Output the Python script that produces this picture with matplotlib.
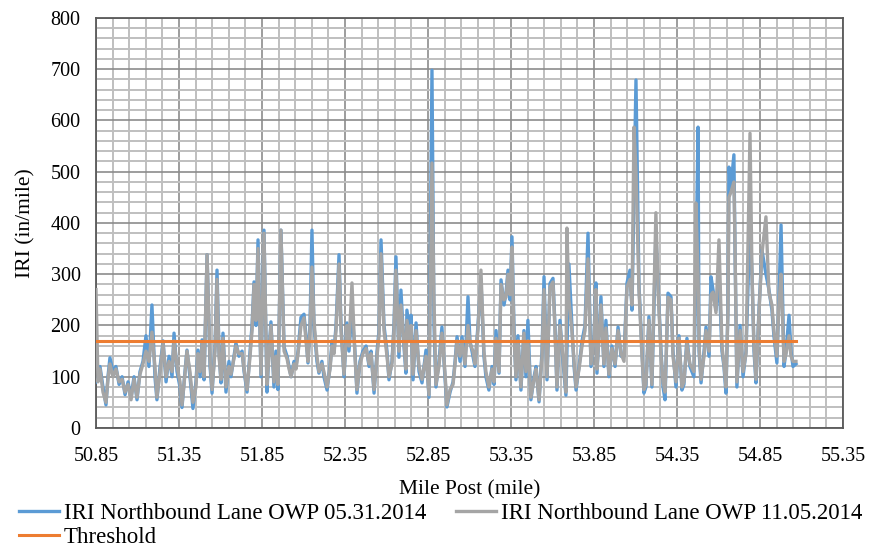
import matplotlib
matplotlib.use("Agg")
import matplotlib.pyplot as plt
import numpy as np

mile = [50.850, 50.862, 50.874, 50.892, 50.910, 50.922, 50.934, 50.952, 50.970, 50.989,
        51.007, 51.025, 51.043, 51.061, 51.079, 51.097, 51.115, 51.133, 51.151, 51.169,
        51.187, 51.205, 51.217, 51.236, 51.254, 51.272, 51.290, 51.308, 51.320, 51.338,
        51.356, 51.368, 51.386, 51.398, 51.416, 51.434, 51.452, 51.464, 51.477, 51.489,
        51.501, 51.519, 51.537, 51.549, 51.567, 51.579, 51.591, 51.603, 51.615, 51.633,
        51.651, 51.663, 51.681, 51.693, 51.711, 51.730, 51.742, 51.760, 51.778, 51.790,
        51.802, 51.814, 51.826, 51.844, 51.862, 51.880, 51.892, 51.904, 51.922, 51.934,
        51.946, 51.964, 51.983, 52.001, 52.013, 52.025, 52.043, 52.055, 52.067, 52.085,
        52.103, 52.115, 52.127, 52.139, 52.151, 52.163, 52.181, 52.193, 52.211, 52.223,
        52.242, 52.260, 52.272, 52.284, 52.296, 52.314, 52.326, 52.344, 52.362, 52.374,
        52.392, 52.410, 52.422, 52.440, 52.458, 52.477, 52.495, 52.507, 52.525, 52.543,
        52.555, 52.567, 52.585, 52.603, 52.615, 52.633, 52.645, 52.657, 52.675, 52.687,
        52.705, 52.717, 52.723, 52.742, 52.748, 52.760, 52.778, 52.796, 52.814, 52.838,
        52.856, 52.874, 52.886, 52.898, 52.916, 52.934, 52.952, 52.964, 52.983, 53.001,
        53.013, 53.025, 53.043, 53.055, 53.073, 53.091, 53.103, 53.121, 53.133, 53.151,
        53.169, 53.187, 53.199, 53.217, 53.236, 53.248, 53.260, 53.278, 53.290, 53.308,
        53.320, 53.332, 53.344, 53.356, 53.368, 53.380, 53.392, 53.410, 53.428, 53.440,
        53.452, 53.470, 53.489, 53.501, 53.519, 53.537, 53.549, 53.567, 53.585, 53.603,
        53.615, 53.627, 53.645, 53.663, 53.681, 53.687, 53.699, 53.717, 53.730, 53.742,
        53.760, 53.778, 53.796, 53.814, 53.832, 53.850, 53.862, 53.868, 53.880, 53.892,
        53.910, 53.922, 53.940, 53.958, 53.977, 53.995, 54.013, 54.031, 54.049, 54.067,
        54.079, 54.091, 54.103, 54.121, 54.139, 54.151, 54.163, 54.181, 54.199, 54.223,
        54.236, 54.254, 54.266, 54.278, 54.296, 54.314, 54.326, 54.344, 54.362, 54.380,
        54.392, 54.410, 54.428, 54.452, 54.464, 54.477, 54.483, 54.495, 54.513, 54.525,
        54.543, 54.555, 54.567, 54.585, 54.603, 54.621, 54.633, 54.645, 54.657, 54.663,
        54.675, 54.693, 54.699, 54.711, 54.730, 54.748, 54.766, 54.790, 54.802, 54.814,
        54.826, 54.844, 54.862, 54.886, 54.904, 54.922, 54.934, 54.952, 54.964, 54.977,
        54.995, 55.007, 55.025, 55.037, 55.049, 55.067]

iri_0531 = [90, 95, 120, 80, 45, 100, 137, 110, 120, 85,
            100, 65, 90, 60, 100, 55, 110, 130, 180, 120,
            240, 100, 55, 120, 170, 90, 140, 100, 185, 110,
            80, 40, 110, 152, 100, 38, 90, 152, 100, 172,
            94, 338, 120, 68, 160, 308, 150, 88, 185, 70,
            130, 100, 140, 166, 140, 150, 110, 70, 150, 200,
            285, 200, 367, 100, 386, 70, 150, 207, 80, 150,
            75, 386, 158, 140, 120, 100, 130, 120, 150, 216,
            222, 180, 127, 200, 386, 200, 130, 107, 130, 100,
            74, 120, 170, 150, 200, 338, 200, 100, 205, 150,
            230, 150, 68, 130, 150, 160, 120, 150, 68, 150,
            190, 367, 200, 150, 94, 130, 200, 334, 138, 269,
            160, 107, 230, 180, 220, 94, 205, 110, 88, 152,
            60, 698, 200, 80, 130, 197, 100, 41, 70, 90,
            130, 178, 130, 178, 120, 256, 170, 140, 120, 200,
            290, 140, 100, 74, 120, 85, 190, 107, 289, 240,
            263, 308, 250, 373, 200, 94, 180, 74, 190, 100,
            210, 55, 100, 120, 51, 150, 295, 94, 282, 292,
            200, 74, 210, 130, 64, 150, 320, 200, 120, 74,
            120, 170, 200, 380, 120, 180, 283, 107, 180, 256,
            120, 210, 100, 160, 120, 197, 140, 140, 283, 308,
            230, 450, 679, 280, 150, 68, 80, 217, 80, 380,
            280, 150, 80, 55, 263, 256, 150, 80, 180, 74,
            85, 175, 120, 100, 300, 587, 150, 88, 150, 197,
            140, 295, 270, 230, 300, 150, 120, 68, 230, 509,
            470, 533, 365, 80, 200, 100, 150, 400, 300, 150,
            88, 230, 347, 300, 270, 230, 180, 127, 250, 396,
            120, 150, 220, 150, 120, 125]

iri_1105 = [270, 90, 115, 70, 50, 95, 125, 100, 115, 90,
            95, 70, 85, 55, 95, 60, 105, 125, 150, 130,
            187, 120, 60, 110, 165, 100, 130, 110, 170, 120,
            90, 45, 105, 150, 110, 50, 80, 145, 110, 165,
            100, 338, 130, 75, 150, 290, 140, 95, 175, 80,
            120, 105, 135, 160, 145, 145, 115, 75, 140, 190,
            280, 210, 350, 105, 380, 85, 140, 200, 90, 140,
            85, 386, 150, 135, 115, 100, 125, 115, 145, 200,
            215, 170, 130, 190, 314, 210, 140, 110, 125, 110,
            80, 115, 160, 145, 190, 320, 190, 105, 200, 160,
            283, 140, 75, 125, 145, 155, 125, 145, 75, 140,
            180, 340, 190, 140, 100, 125, 190, 308, 150, 240,
            170, 115, 210, 170, 200, 105, 190, 120, 95, 140,
            65, 517, 250, 85, 120, 185, 110, 45, 75, 85,
            125, 170, 140, 170, 125, 200, 165, 150, 125, 190,
            308, 150, 110, 80, 115, 90, 175, 110, 280, 250,
            255, 300, 260, 353, 180, 100, 170, 80, 185, 110,
            170, 60, 95, 115, 55, 140, 270, 100, 275, 285,
            190, 80, 200, 140, 70, 390, 250, 190, 130, 80,
            115, 160, 190, 330, 125, 170, 270, 115, 175, 240,
            125, 195, 105, 155, 125, 190, 145, 130, 275, 290,
            240, 587, 500, 270, 140, 75, 85, 210, 85, 420,
            270, 140, 90, 70, 255, 250, 140, 90, 175, 80,
            90, 165, 125, 110, 439, 300, 160, 95, 140, 190,
            150, 260, 265, 225, 367, 160, 125, 80, 225, 450,
            460, 480, 370, 90, 190, 110, 145, 575, 300, 160,
            95, 225, 340, 412, 265, 240, 190, 140, 240, 300,
            130, 145, 180, 140, 130, 130]

threshold_mile = [50.85, 55.067]
threshold_val = [170, 170]

x_ticks = [50.85, 51.35, 51.85, 52.35, 52.85, 53.35, 53.85, 54.35, 54.85, 55.35]
x_ticklabels = ["50.85", "51.35", "51.85", "52.35", "52.85", "53.35", "53.85", "54.35", "54.85", "55.35"]
y_ticks = [0, 100, 200, 300, 400, 500, 600, 700, 800]

plt.rcParams['font.family'] = ['Liberation Serif', 'DejaVu Serif']

fig = plt.figure(figsize=(8.72, 5.48), dpi=100)
ax = fig.add_axes([0.1101, 0.2190, 0.8566, 0.7482])

l1, = ax.plot(mile, iri_0531, color='#5B9BD5', lw=2.4, solid_joinstyle='round', zorder=3,
              label='IRI Northbound Lane OWP 05.31.2014')
l2, = ax.plot(mile, iri_1105, color='#A5A5A5', lw=2.4, solid_joinstyle='round', zorder=4,
              label='IRI Northbound Lane OWP 11.05.2014')
l3, = ax.plot(threshold_mile, threshold_val, color='#ED7D31', lw=2.2, zorder=5, label='Threshold')

ax.set_xlim(50.85, 55.35)
ax.set_ylim(0, 800)
ax.set_xticks(x_ticks)
ax.set_xticklabels(x_ticklabels)
ax.set_yticks(y_ticks)
ax.set_xticks(np.arange(50.85, 55.35, 0.1), minor=True)
ax.set_yticks(np.arange(0, 800, 20), minor=True)
ax.grid(which='minor', color='#BFBFBF', lw=1.4, zorder=0)
ax.grid(which='major', color='#8C8C8C', lw=1.2, zorder=1)
ax.set_axisbelow(True)
ax.tick_params(which='both', length=0, labelsize=14.5, colors='black')
ax.tick_params(axis='x', pad=14)
ax.tick_params(axis='y', pad=11)
for s in ax.spines.values():
    s.set_color('#595959')
    s.set_linewidth(1.3)

ax.set_xlabel('Mile Post (mile)', fontsize=15.5, labelpad=10)
ax.set_ylabel('IRI (in/mile)', fontsize=15.5, labelpad=11)

leg = fig.legend(handles=[l1, l3, l2], loc='upper left', bbox_to_anchor=(0.022, 0.083),
                 ncol=2, frameon=False, fontsize=16.5, handlelength=1.75, handletextpad=0.2,
                 columnspacing=1.3, labelspacing=0.15, borderaxespad=0, borderpad=0)

fig.savefig('out.png', dpi=100)
